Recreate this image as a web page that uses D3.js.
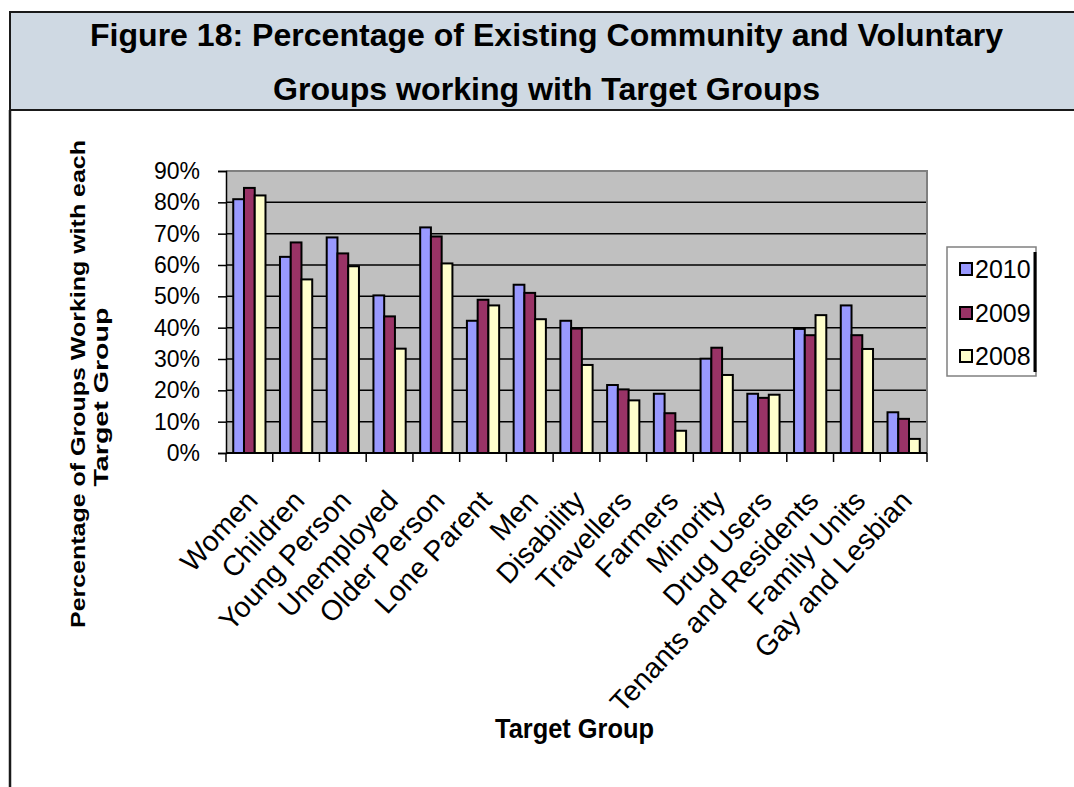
<!DOCTYPE html>
<html>
<head>
<meta charset="utf-8">
<script src="https://cdn.jsdelivr.net/npm/d3@7"></script>
<style>
  html, body { margin: 0; padding: 0; background: #ffffff; }
  svg { display: block; font-family: "Liberation Sans", Arial, sans-serif; }
</style>
</head>
<body>
<svg id="chart" width="1074" height="787"></svg>
<script>
// Target groups along the category axis
const categories = ["Women", "Children", "Young Person", "Unemployed", "Older Person",
  "Lone Parent", "Men", "Disability", "Travellers", "Farmers", "Minority",
  "Drug Users", "Tenants and Residents", "Family Units", "Gay and Lesbian"];

// Share of groups working with each target group, per survey year
const years = ["2010", "2009", "2008"];
const values2010 = [0.81, 0.626, 0.688, 0.503, 0.720, 0.422, 0.537, 0.422, 0.217, 0.189, 0.301, 0.189, 0.396, 0.471, 0.130];
const values2009 = [0.846, 0.672, 0.637, 0.436, 0.691, 0.489, 0.511, 0.397, 0.203, 0.127, 0.336, 0.176, 0.376, 0.376, 0.109];
const values2008 = [0.822, 0.554, 0.596, 0.333, 0.605, 0.471, 0.427, 0.281, 0.168, 0.071, 0.249, 0.186, 0.440, 0.332, 0.045];
const yTicks = [0, 0.1, 0.2, 0.3, 0.4, 0.5, 0.6, 0.7, 0.8, 0.9];

const titleLines = ["Figure 18: Percentage of Existing Community and Voluntary",
                    "Groups working with Target Groups"];
const yTitleLines = ["Percentage of Groups Working with each", "Target Group"];
const xTitle = "Target Group";

const seriesValues = { "2010": values2010, "2009": values2009, "2008": values2008 };
const colors = { "2010": "#9999ff", "2009": "#993366", "2008": "#ffffcc" };

const svg = d3.select("#chart");

// ---- Header band ----
svg.append("rect")
  .attr("x", 10).attr("y", 12).attr("width", 1070).attr("height", 98)
  .attr("fill", "#cfd9e3").attr("stroke", "#1a1a1a").attr("stroke-width", 2);
svg.append("line")
  .attr("x1", 10).attr("x2", 10).attr("y1", 110).attr("y2", 787)
  .attr("stroke", "#1a1a1a").attr("stroke-width", 2.5);

const titleY = [46, 100];
const titleLen = [913, 547];
titleLines.forEach((t, i) => {
  svg.append("text")
    .attr("x", 546.5).attr("y", titleY[i])
    .attr("text-anchor", "middle")
    .attr("font-size", 31).attr("font-weight", "bold")
    .attr("textLength", titleLen[i]).attr("lengthAdjust", "spacingAndGlyphs")
    .attr("fill", "#000")
    .text(t);
});

// ---- Plot area ----
const plotLeft = 226, plotRight = 927, plotTop = 171, plotBottom = 453;

const x = d3.scaleBand().domain(categories).range([plotLeft, plotRight]).padding(0);
const y = d3.scaleLinear().domain([0, 0.9]).range([plotBottom, plotTop]);
const groupWidth = x.bandwidth() * 0.69;
const xs = d3.scaleBand().domain(years)
  .range([(x.bandwidth() - groupWidth) / 2, (x.bandwidth() + groupWidth) / 2]).padding(0);

svg.append("rect")
  .attr("x", plotLeft).attr("y", plotTop)
  .attr("width", plotRight - plotLeft).attr("height", plotBottom - plotTop)
  .attr("fill", "#c0c0c0");

// gridlines
svg.append("g").selectAll("line")
  .data(yTicks.filter(d => d > 0 && d < 0.9))
  .join("line")
  .attr("x1", plotLeft).attr("x2", plotRight)
  .attr("y1", d => y(d)).attr("y2", d => y(d))
  .attr("stroke", "#000").attr("stroke-width", 1.5);

// plot border (top and right)
svg.append("path")
  .attr("d", `M${plotLeft},${y(0.9)}H${plotRight}V${plotBottom}`)
  .attr("fill", "none").attr("stroke", "#808080").attr("stroke-width", 2);

// bars
const groups = svg.append("g").selectAll("g")
  .data(categories)
  .join("g")
  .attr("transform", d => `translate(${x(d)},0)`);

groups.selectAll("rect")
  .data((d, i) => years.map(yr => ({ yr, v: seriesValues[yr][i] })))
  .join("rect")
  .attr("x", d => xs(d.yr))
  .attr("width", xs.bandwidth())
  .attr("y", d => y(d.v))
  .attr("height", d => y(0) - y(d.v))
  .attr("fill", d => colors[d.yr])
  .attr("stroke", "#000").attr("stroke-width", 2);

// y axis
const yAxis = svg.append("g")
  .attr("transform", `translate(${plotLeft},0)`)
  .call(d3.axisLeft(y).tickValues(yTicks).tickFormat(d3.format(".0%")).tickSize(8).tickPadding(18));
yAxis.select(".domain").attr("stroke", "#000").attr("stroke-width", 1.5);
yAxis.selectAll(".tick line").attr("stroke", "#000").attr("stroke-width", 1.5);
yAxis.selectAll(".tick text")
  .attr("font-size", 23).attr("fill", "#000")
  .attr("font-family", "'Liberation Sans', Arial, sans-serif");

// x axis line and boundary ticks
svg.append("line")
  .attr("x1", plotLeft).attr("x2", plotRight).attr("y1", plotBottom).attr("y2", plotBottom)
  .attr("stroke", "#000").attr("stroke-width", 2);
const boundaries = categories.map(c => x(c)).concat([plotRight]);
svg.append("g").selectAll("line")
  .data(boundaries)
  .join("line")
  .attr("x1", d => d).attr("x2", d => d)
  .attr("y1", plotBottom).attr("y2", plotBottom + 9)
  .attr("stroke", "#000").attr("stroke-width", 1.5);

// rotated category labels
svg.append("g").selectAll("text")
  .data(categories)
  .join("text")
  .attr("transform", d => `translate(${x(d) + x.bandwidth() / 2 + 10},${plotBottom + 49}) rotate(-47)`)
  .attr("text-anchor", "end")
  .attr("font-size", 28.5).attr("fill", "#000")
  .text(d => d);

// axis titles
svg.append("text")
  .attr("x", 574.5).attr("y", 738)
  .attr("text-anchor", "middle")
  .attr("font-size", 27).attr("font-weight", "bold")
  .attr("textLength", 159).attr("lengthAdjust", "spacingAndGlyphs")
  .attr("fill", "#000")
  .text(xTitle);

const yTitlePos = [[85, 384, 488], [108, 397, 179]];
yTitleLines.forEach((t, i) => {
  const [tx, ty, len] = yTitlePos[i];
  svg.append("text")
    .attr("transform", `translate(${tx},${ty}) rotate(-90)`)
    .attr("text-anchor", "middle")
    .attr("font-size", 21).attr("font-weight", "bold")
    .attr("textLength", len).attr("lengthAdjust", "spacingAndGlyphs")
    .attr("fill", "#000")
    .text(t);
});

// ---- Legend ----
const legend = svg.append("g");
legend.append("rect")
  .attr("x", 947).attr("y", 247).attr("width", 89).attr("height", 129)
  .attr("fill", "#fff").attr("stroke", "#808080").attr("stroke-width", 1.5);
legend.append("line")
  .attr("x1", 1035).attr("x2", 1035).attr("y1", 252).attr("y2", 372)
  .attr("stroke", "#000").attr("stroke-width", 3);
const legendY = [269, 313, 356];
years.forEach((yr, i) => {
  legend.append("rect")
    .attr("x", 960).attr("y", legendY[i] - 6).attr("width", 12).attr("height", 12)
    .attr("fill", colors[yr]).attr("stroke", "#000").attr("stroke-width", 2);
  legend.append("text")
    .attr("x", 975).attr("y", legendY[i] + 9)
    .attr("font-size", 25).attr("fill", "#000")
    .text(yr);
});
</script>
</body>
</html>
